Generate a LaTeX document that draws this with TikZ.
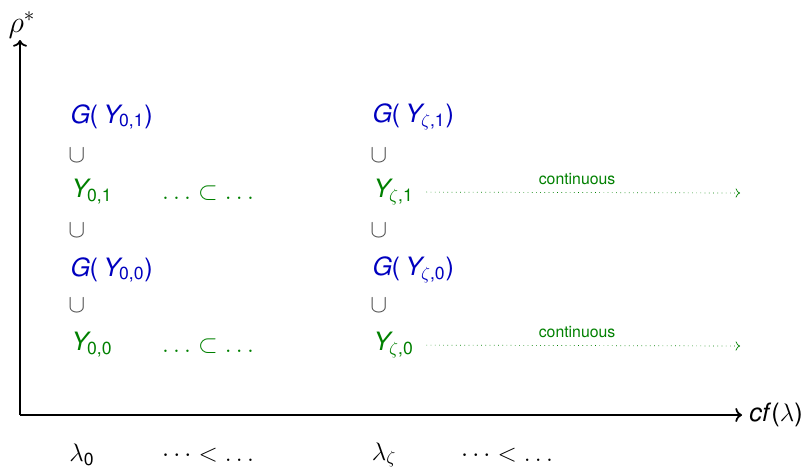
\documentclass[tikz,border=0pt]{standalone}
\usepackage[helvet]{sfmath}
\usepackage[no-math]{fontspec}
\setmainfont{TeX Gyre Heros}
\setsansfont{TeX Gyre Heros}
\usetikzlibrary{arrows.meta, positioning}
\DeclareSymbolFont{cmletters}{OML}{cmm}{m}{it}
\DeclareMathSymbol{\cmdot}{\mathpunct}{cmletters}{"3A}
\newcommand{\lowdots}{\mathinner{\cmdot\cmdot\cmdot}}
\tikzset{
    chain_set/.style={
        anchor=west,
        inner sep=0pt,
        text=green!50!black
    },
    chain_image/.style={
        anchor=west,
        inner sep=0pt,
        text=blue!75!black
    },
    chain_cup/.style={
        anchor=west,
        inner sep=0pt,
        text=black!70
    },
    chain_dots/.style={
        inner sep=0pt,
        text=green!50!black
    },
    axis_arrow/.style={
        ->,
        line width=1pt
    },
    cont_arrow/.style={
        ->,
        dotted,
        green!50!black,
        shorten <=7pt
    },
    cont_label/.style={
        font=\small,
        text=green!50!black,
        above=1pt
    }
}

\begin{document}
\begin{tikzpicture}[x=0.02cm, y=-0.02cm, font=\Large]
\useasboundingbox (0,0) rectangle (810,470);

% --- Axes ---
\coordinate (Origin) at (20,415);
\coordinate (yTip) at (20,40);
\coordinate (xTip) at (742,415);
\draw[axis_arrow] (Origin) -- (yTip);
\draw[axis_arrow] (Origin) -- (xTip);
\node (rhoLabel) at (22,25) {\LARGE$\rho^*$};
\node[right=0pt of xTip] (cfLabel) {$cf(\lambda)$};

% --- Column 0 ---
\node[chain_image] (GYa) at (69,117) {$G(\,Y_{0,1})$};
\node[chain_cup] (cupA) at (68,155) {$\cup$};
\node[chain_set] (Ya) at (70,192) {$Y_{0,1}$};
\node[chain_cup] (cupB) at (68,230) {$\cup$};
\node[chain_image] (GYb) at (69,270) {$G(\,Y_{0,0})$};
\node[chain_cup] (cupC) at (68,305) {$\cup$};
\node[chain_set] (Yb) at (70,345) {$Y_{0,0}$};

\node[chain_dots] (dotsA) at (208,193) {$\lowdots\subset\lowdots$};
\node[chain_dots] (dotsB) at (208,346) {$\lowdots\subset\lowdots$};

% --- Column zeta ---
\node[chain_image] (GZa) at (371,117) {$G(\,Y_{\zeta,1})$};
\node[chain_cup] (cupD) at (370,155) {$\cup$};
\node[chain_set] (Za) at (372,192) {$Y_{\zeta,1}$};
\node[chain_cup] (cupE) at (370,230) {$\cup$};
\node[chain_image] (GZb) at (371,270) {$G(\,Y_{\zeta,0})$};
\node[chain_cup] (cupF) at (370,305) {$\cup$};
\node[chain_set] (Zb) at (372,345) {$Y_{\zeta,0}$};

\coordinate (endA) at (740,193);
\coordinate (endB) at (740,346);
\draw[cont_arrow] (Za) -- node[cont_label] {continuous} (endA);
\draw[cont_arrow] (Zb) -- node[cont_label] {continuous} (endB);

% --- Below the axis ---
\node (lamA) at (82,455) {$\lambda_0$};
\node (ltA) at (208,455) {$\cdots<\lowdots$};
\node (lamZ) at (384,455) {$\lambda_\zeta$};
\node (ltZ) at (507,455) {$\cdots<\lowdots$};

\end{tikzpicture}
\end{document}
